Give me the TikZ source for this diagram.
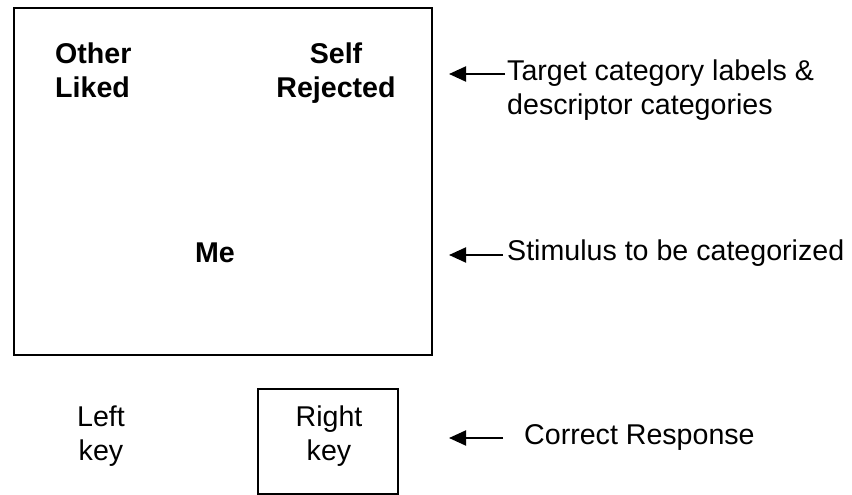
\documentclass[tikz,border=0pt]{standalone}
\usepackage{fontspec}
\setmainfont{Liberation Sans}
\usetikzlibrary{arrows.meta}
\begin{document}
\begin{tikzpicture}[x=1pt,y=-1pt,
  txt/.style={inner sep=0pt,font=\fontsize{28.6}{34}\selectfont},
  btxt/.style={inner sep=0pt,font=\fontsize{28.6}{34}\selectfont\bfseries},
  frame/.style={draw=black,line width=2pt},
  arr/.style={line width=2pt,-{Triangle[length=17pt,width=15pt]}}]
\useasboundingbox (0,0) rectangle (852,495);
\fill[white] (0,0) rectangle (852,495);
% big screen box
\draw[frame] (14,8) rectangle (432,355);
\node[btxt,anchor=base west] (other) at (55,63.5) {Other};
\node[btxt,anchor=base west] (liked) at (55,97.5) {Liked};
\node[btxt,anchor=base] (self) at (336,63.5) {Self};
\node[btxt,anchor=base] (rejected) at (336,97.5) {Rejected};
\node[btxt,anchor=base] (me) at (215,262) {Me};
% annotations
\node[txt,anchor=base west] (tgt1) at (507,81) {Target category labels \&};
\node[txt,anchor=base west] (tgt2) at (507,114) {descriptor categories};
\coordinate (a1s) at (505,74);
\coordinate (a1e) at (449,74);
\draw[arr] (a1s) -- (a1e);
\node[txt,anchor=base west] (stim) at (507,260.5) {Stimulus to be categorized};
\coordinate (a2s) at (503,255);
\coordinate (a2e) at (449,255);
\draw[arr] (a2s) -- (a2e);
% keys
\node[txt,anchor=base] (left1) at (101,426) {Left};
\node[txt,anchor=base] (left2) at (101,460) {key};
\draw[frame] (258,389) rectangle (398,494);
\node[txt,anchor=base] (right1) at (329,426) {Right};
\node[txt,anchor=base] (right2) at (329,460) {key};
\node[txt,anchor=base west] (corr) at (524,444) {Correct Response};
\coordinate (a3s) at (503,438);
\coordinate (a3e) at (449,438);
\draw[arr] (a3s) -- (a3e);
\end{tikzpicture}
\end{document}
